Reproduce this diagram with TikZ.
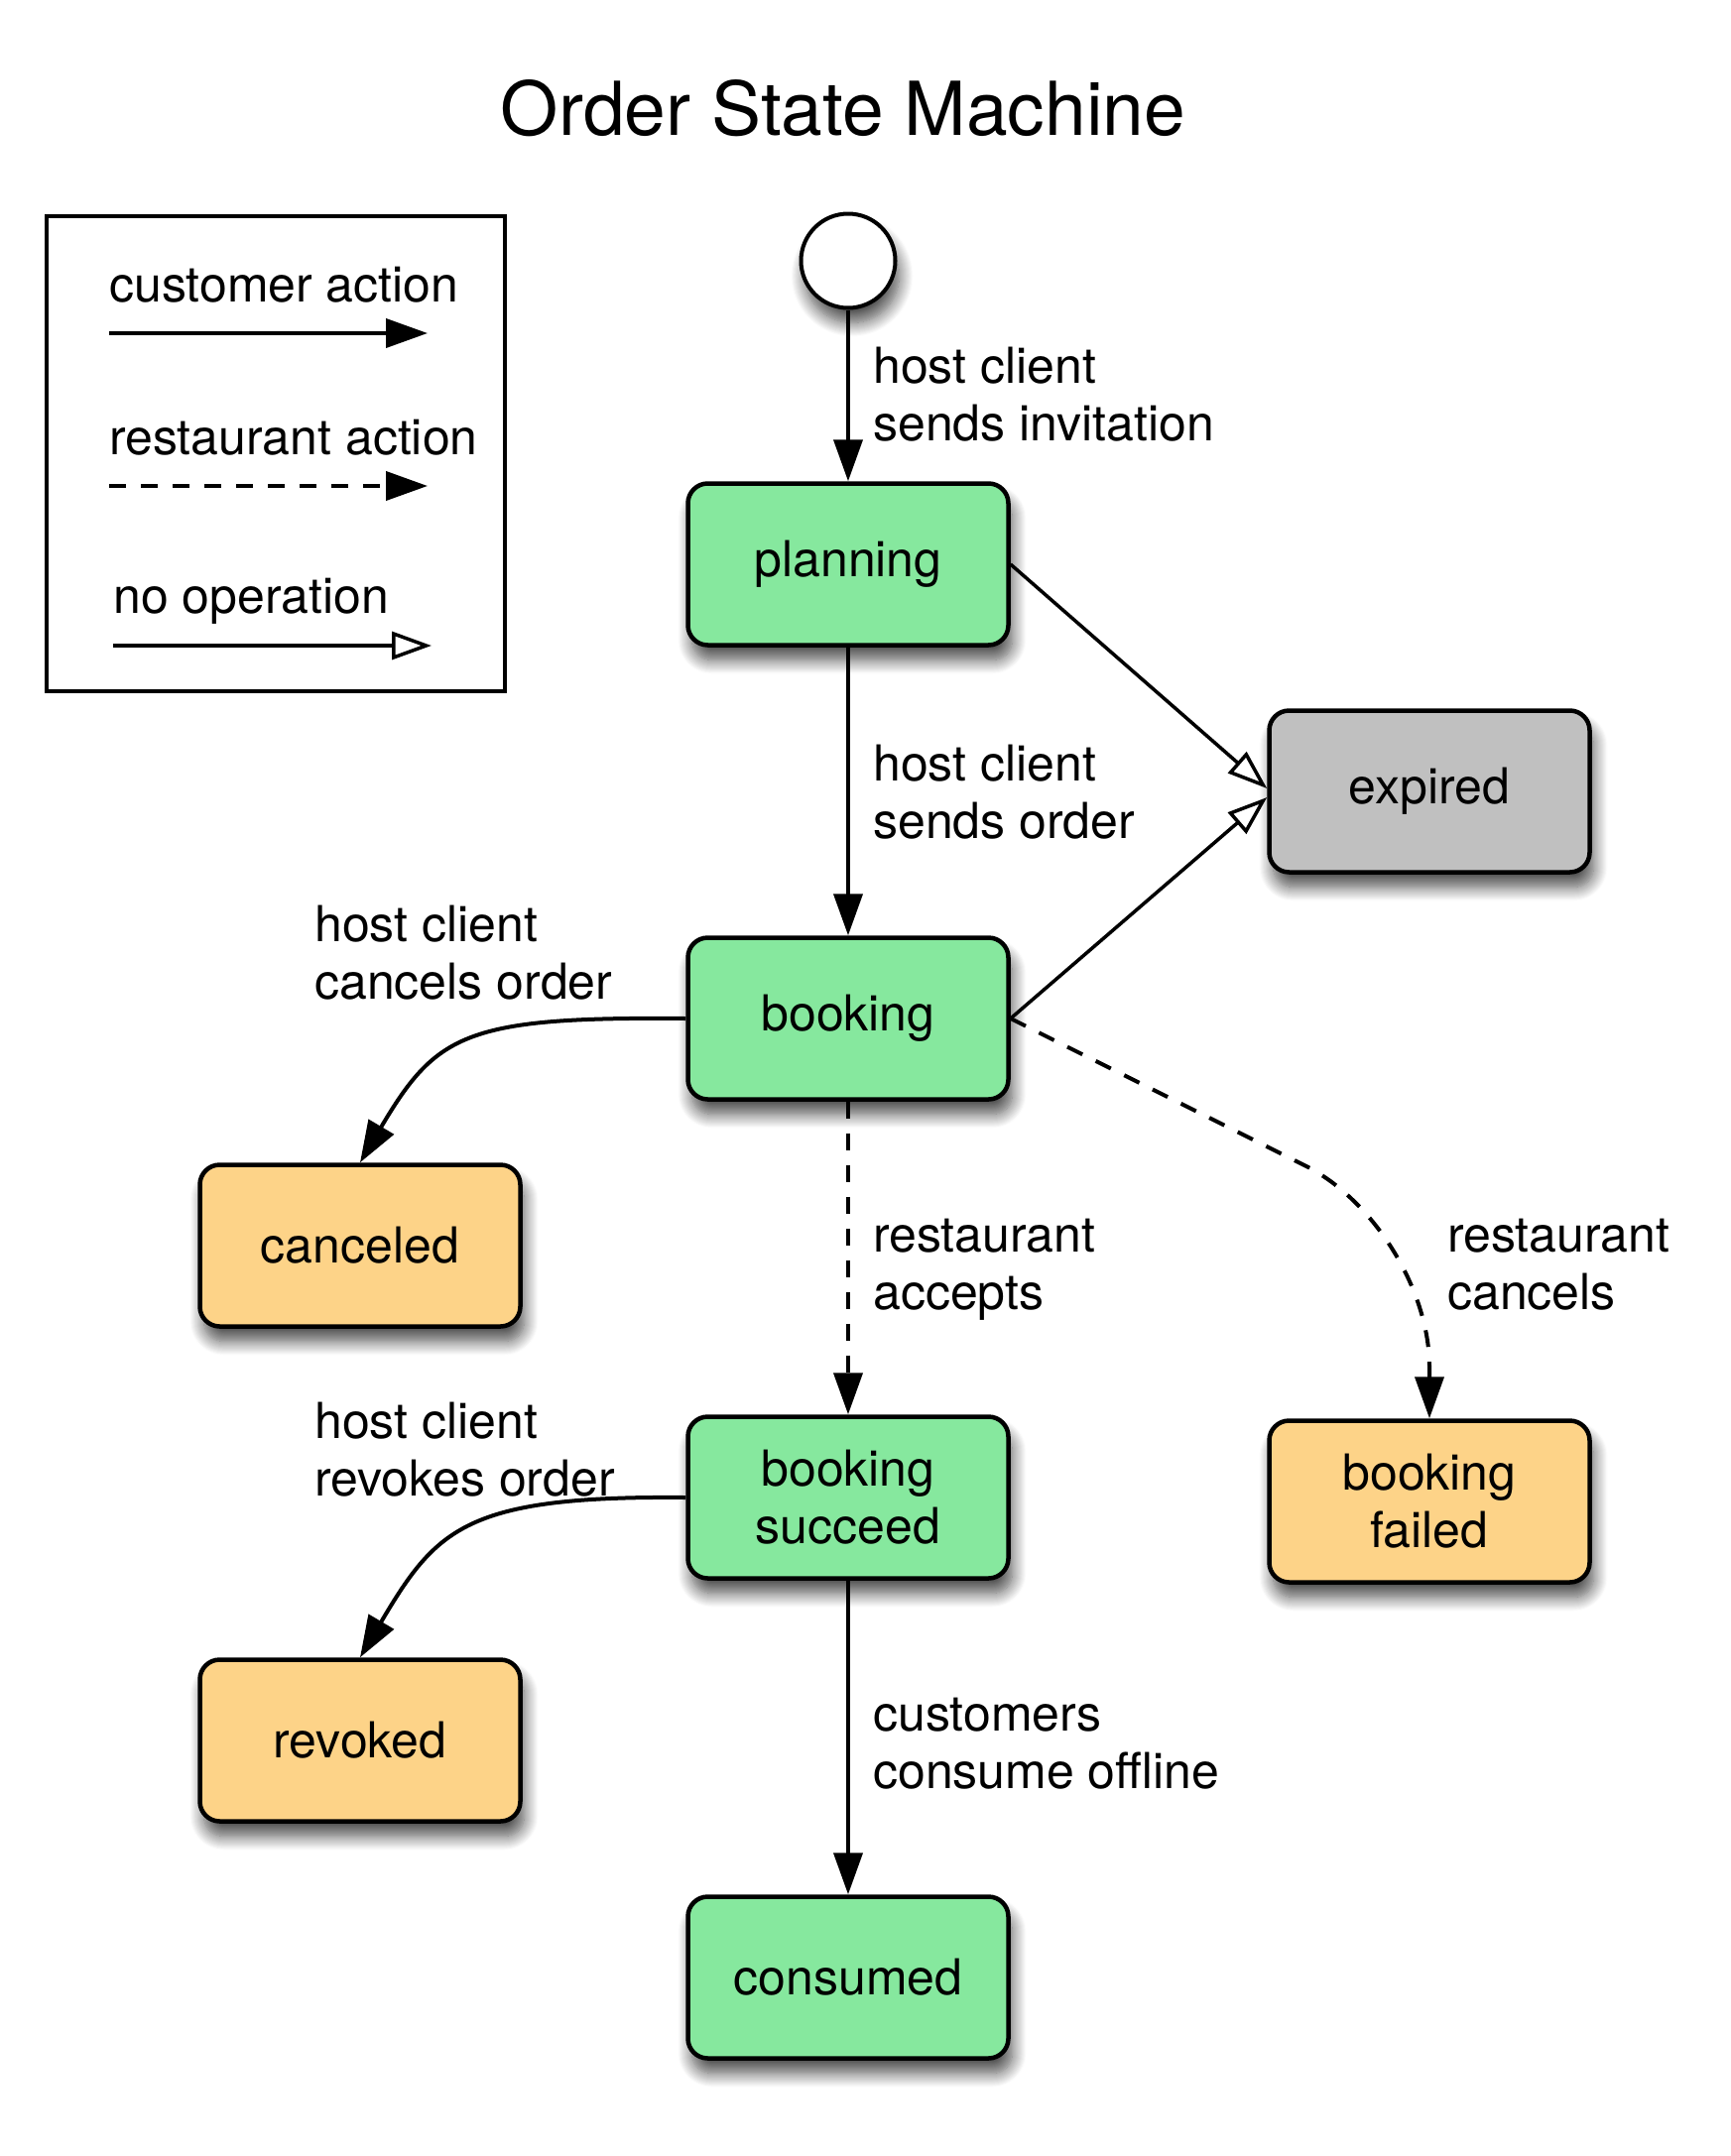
\documentclass[tikz,border=0pt]{standalone}
\usepackage{fontspec}
\setmainfont{TeX Gyre Heros}
\usetikzlibrary{arrows.meta,shadows.blur}
\definecolor{stgreen}{RGB}{134,232,158}
\definecolor{storange}{RGB}{253,211,136}
\definecolor{stgray}{RGB}{192,192,192}
\begin{document}
\begin{tikzpicture}[x=1pt,y=-1pt,
  every node/.style={font=\fontsize{50}{58}\selectfont, inner sep=0pt},
  myshadow/.style={blur shadow={shadow xshift=4pt, shadow yshift=-15pt, shadow blur radius=14pt, shadow blur steps=14, shadow opacity=70}},
  stbox/.style={draw, line width=4.5pt, rounded corners=20pt, minimum width=323pt, minimum height=163pt, align=center, myshadow},
  lbl/.style={anchor=base west, align=left},
  cust/.style={line width=4pt, -{Triangle[length=42pt,width=29pt]}},
  rest/.style={cust, dash pattern=on 17pt off 15pt},
  noop/.style={line width=3.5pt, -{Triangle[open,fill=white,length=40pt,width=28pt]}},
]
\useasboundingbox (0,0) rectangle (1745,2174);

% title
\node[font=\fontsize{75}{90}\selectfont, anchor=base] (title) at (850,136) {Order State Machine};

% legend
\node[draw, line width=3.5pt, minimum width=462pt, minimum height=479pt] (legend) at (278,457.5) {};
\node[lbl] (lt1) at (110,304) {customer action};
\coordinate (a1s) at (110,336);
\coordinate (a1e) at (431,336);
\draw[cust] (a1s) -- (a1e);
\node[lbl] (lt2) at (110,458) {restaurant action};
\coordinate (a2s) at (110,490);
\coordinate (a2e) at (431,490);
\draw[rest] (a2s) -- (a2e);
\node[lbl] (lt3) at (114,618) {no operation};
\coordinate (a3s) at (114,651);
\coordinate (a3e) at (435,651);
\draw[noop] (a3s) -- (a3e);

% states
\node[circle, draw, fill=white, line width=4pt, minimum size=95pt, myshadow] (start) at (855,263) {};
\node[stbox, fill=stgreen] (planning) at (855,569) {planning};
\node[stbox, fill=stgray] (expired) at (1441,798) {expired};
\node[stbox, fill=stgreen] (booking) at (855,1027) {booking};
\node[stbox, fill=storange] (canceled) at (363,1256) {canceled};
\node[stbox, fill=stgreen] (succeed) at (855,1510) {booking\\succeed};
\node[stbox, fill=storange] (failed) at (1441,1514) {booking\\failed};
\node[stbox, fill=storange] (revoked) at (363,1755) {revoked};
\node[stbox, fill=stgreen] (consumed) at (855,1994) {consumed};

% transitions
\draw[cust] (start) -- (planning);
\draw[cust] (planning) -- (booking);
\draw[noop] (planning.east) -- ([yshift=3pt]expired.west);
\draw[noop] (booking.east) -- ([yshift=-6pt]expired.west);
\draw[cust] (booking.west) .. controls +(-222,-2) and +(77,-130) .. (canceled.north);
\draw[rest] (booking) -- (succeed);
\coordinate (bend) at (1441,1238);
\draw[rest, rounded corners=140pt] (booking.east) -- (bend) -- (failed.north);
\draw[cust] (succeed.west) .. controls +(-222,-2) and +(77,-130) .. (revoked.north);
\draw[cust] (succeed) -- (consumed);

% labels (base anchor = baseline of the last line)
\node[lbl] (l1) at (880,444) {host client\\sends invitation};
\node[lbl] (l2) at (880,845) {host client\\sends order};
\node[lbl] (l3) at (317,1007) {host client\\cancels order};
\node[lbl] (l4) at (880,1320) {restaurant\\accepts};
\node[lbl] (l5) at (1459,1320) {restaurant\\cancels};
\node[lbl] (l6) at (317,1508) {host client\\revokes order};
\node[lbl] (l7) at (880,1803) {customers\\consume offline};
\end{tikzpicture}
\end{document}
